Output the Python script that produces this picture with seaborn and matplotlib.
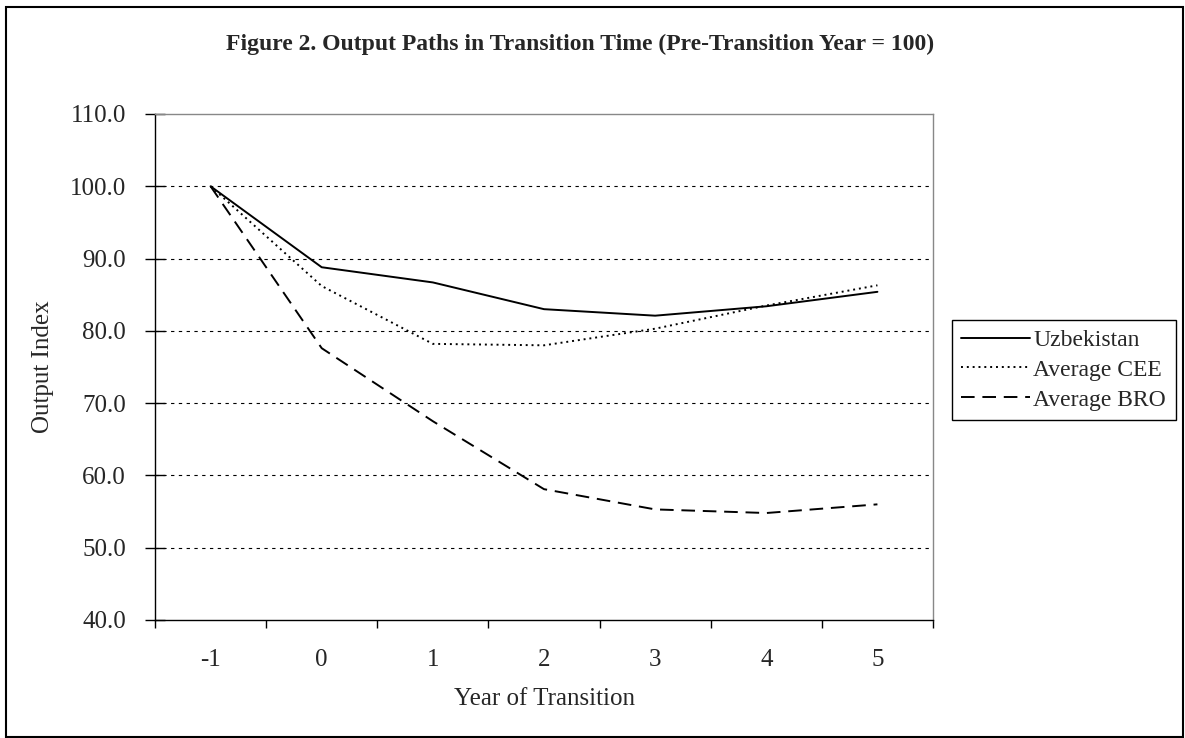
import pandas as pd
import matplotlib.pyplot as plt
import seaborn as sns
from matplotlib.patches import Rectangle
from matplotlib.ticker import FixedLocator

###Data###

years = [-1, 0, 1, 2, 3, 4, 5]
uzbekistan = [100.0, 88.8, 86.7, 83.0, 82.1, 83.4, 85.4]
average_cee = [100.0, 86.2, 78.2, 78.0, 80.3, 83.5, 86.3]
average_bro = [100.0, 77.6, 67.5, 58.1, 55.3, 54.8, 56.0]

series_names = ["Uzbekistan", "Average CEE", "Average BRO"]

df = pd.DataFrame({
    "year": years * 3,
    "value": uzbekistan + average_cee + average_bro,
    "series": [n for n in series_names for _ in years],
})

###Plot###

sns.set_style("white")
plt.rcParams['font.family'] = ['Liberation Serif', 'DejaVu Serif']

fig = plt.figure(figsize=(11.85, 7.38), dpi=100)
ax = fig.add_axes([155/1185, 1 - 620/738, (933-155)/1185, (620-114)/738])

sns.lineplot(data=df, x="year", y="value", style="series", ax=ax,
             color="black", linewidth=1.4, sort=False,
             dashes={"Uzbekistan": "", "Average CEE": (1, 2), "Average BRO": (7, 4)},
             legend=True)

ax.set_xlim(-1.5, 5.5)
ax.set_ylim(40, 110)
ax.set_yticks(range(40, 111, 10))
ax.set_yticklabels([f"{v:.1f}" for v in range(40, 111, 10)], fontsize=18)
ax.set_xticks(years)
ax.set_xticklabels([str(y) for y in years], fontsize=18)
ax.xaxis.set_minor_locator(FixedLocator([y + 0.5 for y in [-2] + years]))
ax.tick_params(axis="x", which="major", length=0, pad=21)
ax.tick_params(axis="x", which="minor", length=6, direction="out", width=1, color="black", bottom=True)
ax.tick_params(axis="y", length=14, direction="inout", width=1, color="black", left=True, pad=14)

for v in range(50, 101, 10):
    ax.axhline(v, color="black", linestyle=(0, (3, 4)), linewidth=0.8, zorder=0)

ax.spines["left"].set_color("black")
ax.spines["bottom"].set_color("black")
ax.spines["top"].set_color("#888888")
ax.spines["right"].set_color("#888888")
for s in ax.spines.values():
    s.set_linewidth(1)

ax.set_xlabel("Year of Transition", fontsize=18, labelpad=12)
ax.set_ylabel("Output Index", fontsize=18, labelpad=11)

leg = ax.legend(loc="center left", bbox_to_anchor=(952/1185, 1 - 370/738),
                bbox_transform=fig.transFigure, frameon=True, fancybox=False,
                edgecolor="black", framealpha=1, fontsize=17, handlelength=2.9,
                handletextpad=0.15, borderpad=0.4, labelspacing=0.35, borderaxespad=0)
leg.get_frame().set_linewidth(1)

fig.text(580/1185, 1 - 44/738, "Figure 2. Output Paths in Transition Time (Pre-Transition Year = 100)",
         ha="center", va="center", fontsize=17, fontweight="bold")

fig.patches.append(Rectangle((6/1185, 1/738), 1177/1185, 730/738, transform=fig.transFigure,
                             fill=False, edgecolor="black", linewidth=1.5))

plt.savefig("out.png", dpi=100)
